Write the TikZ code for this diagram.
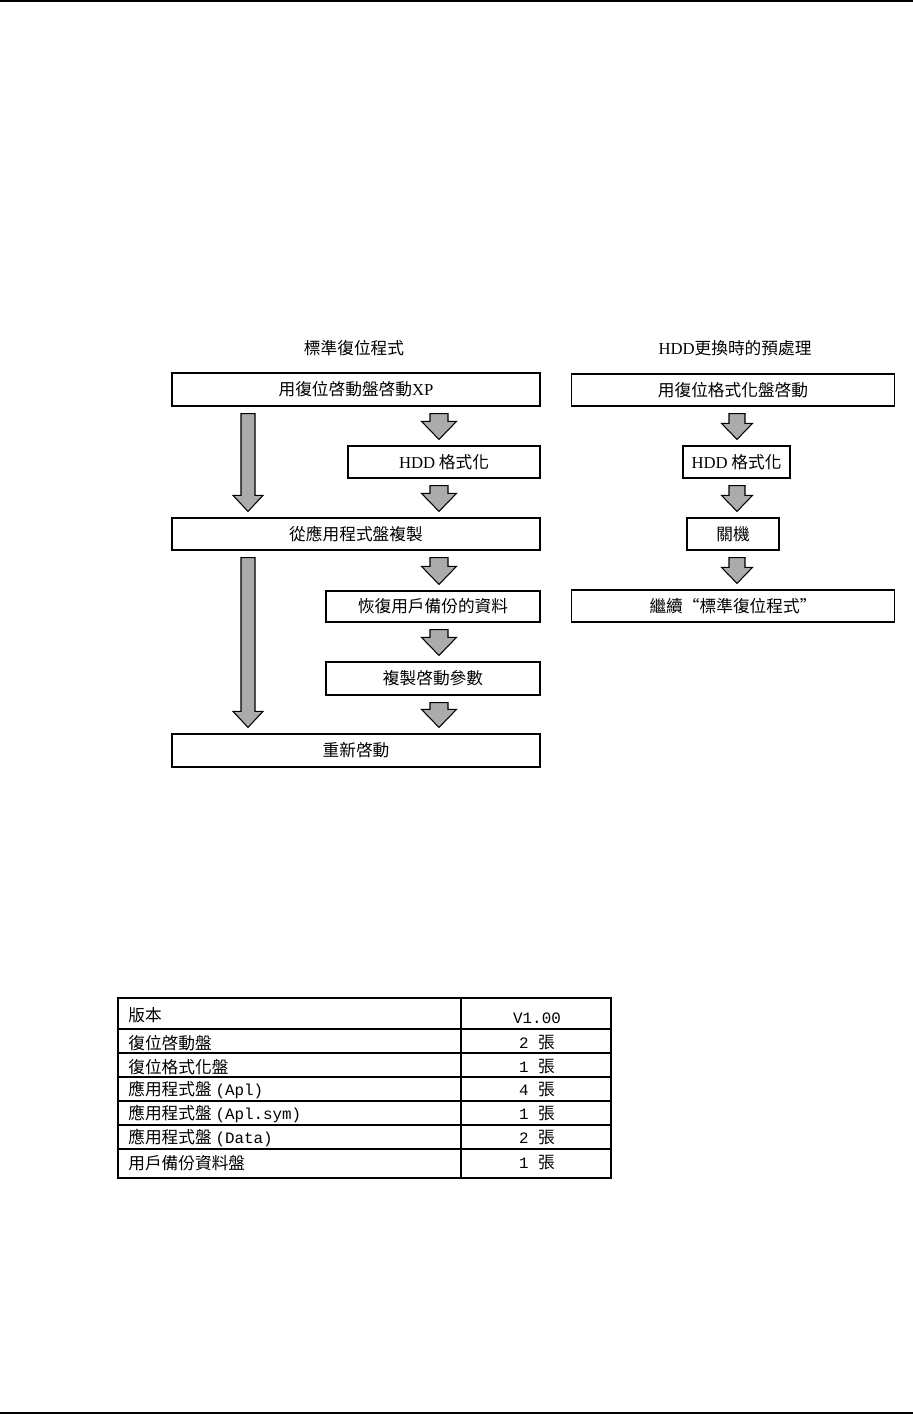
\documentclass[tikz,border=0pt]{standalone}
\usepackage{fontspec}
\setmainfont{Noto Sans CJK TC}
\newfontfamily\en{Liberation Serif}
\newfontfamily\mono[Scale=0.95]{Liberation Mono}
\usetikzlibrary{calc}

% block arrow between two boxes: x, from, to, shaft half, head half, head length
\newcommand{\blkarrow}[6]{%
  \coordinate (bs) at (#1,0 |- #2.south);
  \coordinate (be) at (#1,0 |- #3.north);
  \draw[blk] ($(bs)+(-#4,7)$) -- ($(bs)+(#4,7)$) -- ($(be)+(#4,-6-#6)$)
    -- ($(be)+(#5,-6-#6)$) -- ($(be)+(0,-6)$) -- ($(be)+(-#5,-6-#6)$)
    -- ($(be)+(-#4,-6-#6)$) -- cycle;
}

\begin{document}
\begin{tikzpicture}[
  x=0.02cm, y=-0.02cm,
  every node/.style={font=\fontsize{9.5}{11}\selectfont},
  box/.style={draw, line width=0.7pt, inner sep=0pt, text centered},
  blk/.style={draw, line width=0.6pt, fill=black!33, line join=miter},
  cell/.style={anchor=west, inner sep=0pt},
  num/.style={inner sep=0pt}
]
  \useasboundingbox (0,0) rectangle (913,1414);
  \draw[line width=1.1pt] (0,1) -- (913,1);
  \draw[line width=1.1pt] (0,1413) -- (913,1413);

  % standard restore
  \node (titlel) at (354,348) {標準復位程式};
  \node[box, minimum width=7.36cm, minimum height=0.66cm] (start) at (356,389.5) {用復位啓動盤啓動{\en XP}};
  \node[box, minimum width=3.84cm, minimum height=0.64cm] (fmtl) at (444,462) {{\en HDD} 格式化};
  \node[box, minimum width=7.36cm, minimum height=0.64cm] (copyapp) at (356,534) {從應用程式盤複製};
  \node[box, minimum width=4.28cm, minimum height=0.62cm] (restore) at (433,606.5) {恢復用戶備份的資料};
  \node[box, minimum width=4.28cm, minimum height=0.66cm] (copyparam) at (433,678.5) {複製啓動參數};
  \node[box, minimum width=7.36cm, minimum height=0.66cm] (reboot) at (356,750.5) {重新啓動};

  \blkarrow{248}{start}{copyapp}{7}{15}{16}
  \blkarrow{248}{copyapp}{reboot}{7}{15}{16}
  \blkarrow{439}{start}{fmtl}{9}{17.5}{18}
  \blkarrow{439}{fmtl}{copyapp}{9}{17.5}{18}
  \blkarrow{439}{copyapp}{restore}{9}{17.5}{18}
  \blkarrow{439}{restore}{copyparam}{9}{17.5}{18}
  \blkarrow{439}{copyparam}{reboot}{9}{17.5}{18}

  % HDD replacement
  \node (titler) at (735,348) {{\en HDD}更換時的預處理};
  \node[box, minimum width=6.46cm, minimum height=0.64cm] (fmtboot) at (733,390) {用復位格式化盤啓動};
  \node[box, minimum width=2.14cm, minimum height=0.64cm] (fmtr) at (736.5,462) {{\en HDD} 格式化};
  \node[box, minimum width=1.84cm, minimum height=0.64cm] (shutdown) at (733,534) {關機};
  \node[box, minimum width=6.46cm, minimum height=0.64cm] (cont) at (733,606) {繼續“標準復位程式”};

  \blkarrow{737}{fmtboot}{fmtr}{8}{15.5}{16}
  \blkarrow{737}{fmtr}{shutdown}{8}{15.5}{16}
  \blkarrow{737}{shutdown}{cont}{8}{15.5}{16}

  % disk table
  \draw[line width=0.6pt] (118,998) rectangle (611,1178);
  \draw[line width=0.6pt] (461,998) -- (461,1178);
  \foreach \y in {1029,1053,1077,1101,1125,1149}
    \draw[line width=0.6pt] (118,\y) -- (611,\y);

  \node[cell] (ver) at (128,1015) {版本};
  \node[num] (vernum) at (537,1018) {\mono V1.00};
  \node[cell] (bootd) at (128,1043) {復位啓動盤};
  \node[num] (bootn) at (537,1043) {\mono 2 \normalfont 張};
  \node[cell] (fmtd) at (128,1067) {復位格式化盤};
  \node[num] (fmtn) at (537,1067) {\mono 1 \normalfont 張};
  \node[cell] (apld) at (128,1090) {應用程式盤 {\mono (Apl)}};
  \node[num] (apln) at (537,1090) {\mono 4 \normalfont 張};
  \node[cell] (symd) at (128,1114) {應用程式盤 {\mono (Apl.sym)}};
  \node[num] (symn) at (537,1114) {\mono 1 \normalfont 張};
  \node[cell] (datad) at (128,1138) {應用程式盤 {\mono (Data)}};
  \node[num] (datan) at (537,1138) {\mono 2 \normalfont 張};
  \node[cell] (userd) at (128,1163) {用戶備份資料盤};
  \node[num] (usern) at (537,1163) {\mono 1 \normalfont 張};
\end{tikzpicture}
\end{document}
